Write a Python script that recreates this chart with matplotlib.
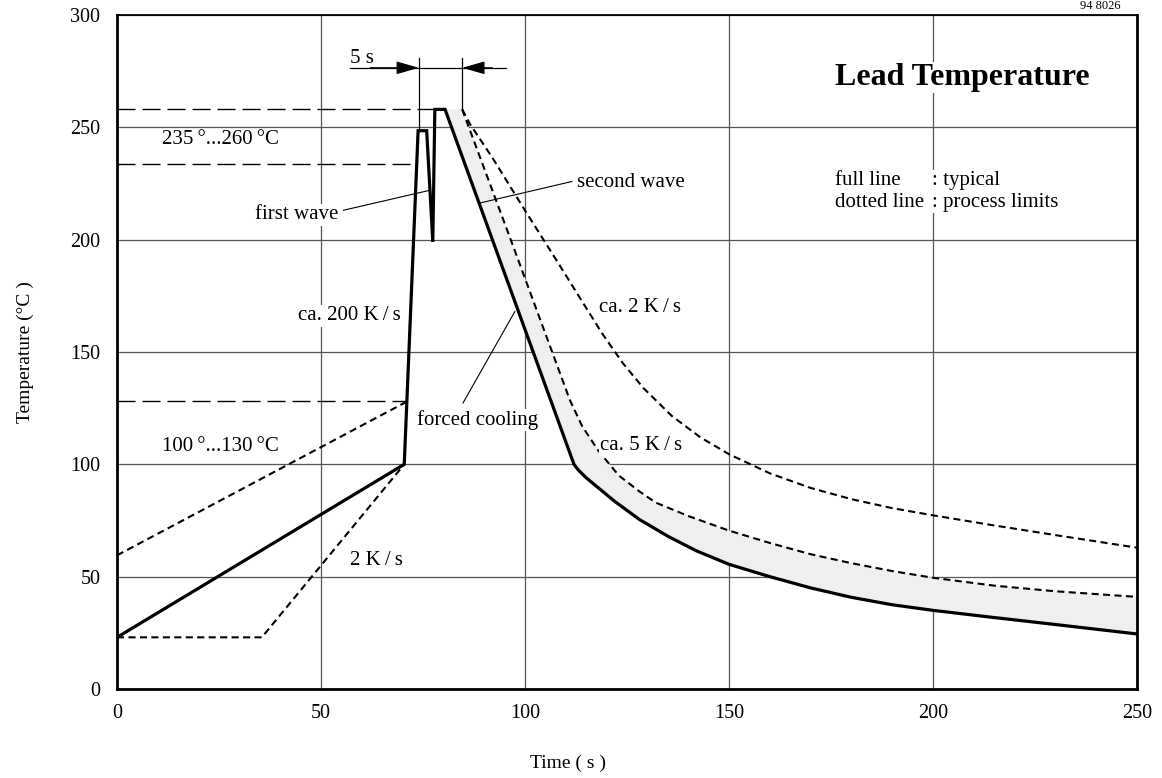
import numpy as np
import matplotlib
matplotlib.use('Agg')
import matplotlib.pyplot as plt

plt.rcParams['font.family'] = ['Liberation Serif', 'DejaVu Serif']

# full line: typical profile
typ_t = [0, 70.4, 73.8, 75.9, 77.4, 77.9, 80.4, 112, 113, 115, 118, 122, 128, 135, 142, 150,
         160, 170, 180, 190, 200, 215, 230, 250]
typ_T = [23, 100, 248.5, 248.5, 199, 258, 258, 100, 97.6, 94, 89.5, 83.5, 75.5, 68, 61.5, 55.5,
         50, 45, 40.8, 37.5, 35, 31.8, 28.7, 24.5]

# dotted lines: process limits
heat_hi_t = [0, 70.6]
heat_hi_T = [59.5, 127.5]
heat_lo_t = [0, 35.5, 70.4]
heat_lo_T = [23, 23, 100]

cool5_t = [84.6, 96.5, 111, 114, 118, 123, 128, 132, 140, 150, 160, 170, 180, 190, 200, 215, 230, 250]
cool5_T = [258, 200, 128.6, 117, 106, 95, 88, 83, 77, 70.5, 65, 60, 56, 52.5, 49.5, 46, 43.5, 41]

cool2_t = [84.6, 86.5, 92, 100, 108, 114, 119, 124, 129, 136, 143, 150, 160, 170, 180,
           190, 200, 215, 230, 250]
cool2_T = [258, 251.5, 236.5, 213, 190, 172.5, 158, 145, 134, 121.5, 112, 104.5, 96, 89.5, 84.5,
           80.5, 77.3, 72.8, 68.5, 62.9]

# dashed reference levels and how far they reach
ref_T = [258, 233.5, 128]
ref_end = [77.9, 73.4, 71.0]

fig = plt.figure(figsize=(11.62, 7.78), dpi=100)
ax = fig.add_axes([0.1007, 0.1144, 0.8778, 0.8663])

ax.set_xlim(0, 250)
ax.set_ylim(0, 300)
ax.set_xticks([0, 50, 100, 150, 200, 250])
ax.set_yticks([0, 50, 100, 150, 200, 250, 300])
ax.tick_params(length=0, labelsize=14.5)
ax.tick_params(axis='y', pad=12)
ax.tick_params(axis='x', pad=11)
ax.grid(True, color='#555555', lw=0.9, zorder=0)
ax.set_axisbelow(True)
for s in ['left', 'bottom', 'right']:
    ax.spines[s].set_linewidth(2.0)
ax.spines['top'].set_linewidth(1.3)

# shaded band between typical and 5 K/s limit
cool_i = typ_t.index(80.4)
band_t = np.r_[cool5_t, typ_t[cool_i:][::-1]]
band_T = np.r_[cool5_T, typ_T[cool_i:][::-1]]
ax.fill(band_t, band_T, color='#efefef', lw=0, zorder=1)

dot = dict(color='black', lw=1.5, linestyle=(0, (3.4, 2.1)), zorder=2)
ax.plot(heat_hi_t, heat_hi_T, **dot)
ax.plot(heat_lo_t, heat_lo_T, **dot)
ax.plot(cool5_t, cool5_T, **dot)
ax.plot(cool2_t, cool2_T, **dot)

for T, xe in zip(ref_T, ref_end):
    ax.plot([0, xe], [T, T], color='black', lw=1.0, linestyle=(0, (13, 5)), zorder=2)

ax.plot(typ_t, typ_T, color='black', lw=2.3, zorder=3, solid_joinstyle='miter')

# 5 s dwell marker
ax.plot([57.1, 95.3], [276.5, 276.5], color='black', lw=0.9)
ax.plot([74.0, 74.0], [248.5, 281], color='black', lw=0.9)
ax.plot([84.6, 84.6], [258, 281], color='black', lw=0.9)
arr = dict(arrowstyle='-|>,head_length=0.7,head_width=0.2', color='black', lw=0.9,
           shrinkA=0, shrinkB=0, mutation_scale=20)
ax.annotate('', xy=(74.0, 276.5), xytext=(62, 276.5), arrowprops=arr)
ax.annotate('', xy=(84.6, 276.5), xytext=(92, 276.5), arrowprops=arr)

# leader lines
ax.plot([55.5, 76.7], [213.1, 222.0], color='black', lw=0.8)
ax.plot([88.9, 111.5], [216.3, 225.9], color='black', lw=0.8)
ax.plot([84.8, 97.5], [127.3, 168.0], color='black', lw=0.8)

bg = dict(facecolor='white', edgecolor='none', pad=1)
fs = 15
ax.text(57.1, 278.8, '5 s', fontsize=fs, va='baseline')
ax.text(11.0, 242.4, '235\u2009°...260\u2009°C', fontsize=fs, va='baseline', bbox=bg)
ax.text(11.0, 105.8, '100\u2009°...130\u2009°C', fontsize=fs, va='baseline', bbox=bg)
ax.text(54.2, 209.0, 'first wave', fontsize=fs, va='baseline', ha='right', bbox=bg)
ax.text(112.7, 223.4, 'second wave', fontsize=fs, va='baseline', bbox=bg)
ax.text(44.4, 164.2, 'ca. 200 K\u2009/\u2009s', fontsize=fs, va='baseline', bbox=bg)
ax.text(103.3, 117.5, 'forced cooling', fontsize=fs, va='baseline', ha='right', bbox=bg)
ax.text(118.2, 167.9, 'ca. 2 K\u2009/\u2009s', fontsize=fs, va='baseline', bbox=bg)
ax.text(118.5, 106.4, 'ca. 5 K\u2009/\u2009s', fontsize=fs, va='baseline', bbox=bg)
ax.text(57.1, 55.2, '2 K\u2009/\u2009s', fontsize=fs, va='baseline', bbox=bg)
ax.text(176.0, 268.8, 'Lead Temperature', fontsize=23, fontweight='bold', va='baseline', bbox=bg)
ax.text(176.0, 224.3, 'full line', fontsize=fs, va='baseline', bbox=bg)
ax.text(176.0, 214.7, 'dotted line', fontsize=fs, va='baseline', bbox=bg)
ax.text(199.8, 224.3, ': typical', fontsize=fs, va='baseline', bbox=bg)
ax.text(199.8, 214.7, ': process limits', fontsize=fs, va='baseline', bbox=bg)

ax.set_ylabel('Temperature (°C )', fontsize=14)
ax.yaxis.set_label_coords(-0.081, 0.5)
ax.set_xlabel('Time ( s )', fontsize=14)
ax.xaxis.set_label_coords(0.442, -0.098)

fig.text(0.9466, 0.9995, '94 8026', fontsize=9, ha='center', va='top')

fig.savefig('out.png', dpi=100)
